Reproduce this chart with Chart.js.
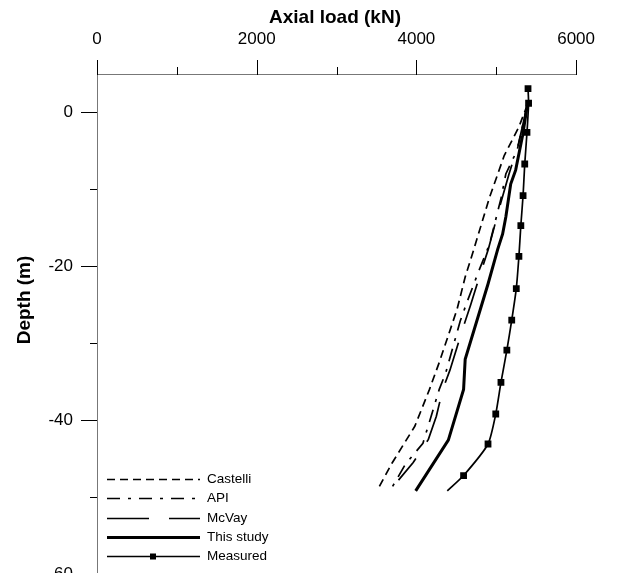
<!DOCTYPE html>
<html>
<head>
<meta charset="utf-8">
<script src="https://cdn.jsdelivr.net/npm/chart.js@4.4.0/dist/chart.umd.min.js"></script>
<style>
  html, body { margin: 0; padding: 0; overflow: hidden; background: #fff; }
</style>
</head>
<body>
<canvas id="pile-chart" width="619" height="620"></canvas>
<script>
// axis ticks
var loadTicks = [0, 1000, 2000, 3000, 4000, 5000, 6000];
var depthTicks = [0, -10, -20, -30, -40, -50, -60];

// series (load kN, depth m)
var castelliLoad  = [5390, 5283, 5100, 5019, 4917, 4815, 4713, 4611, 4509, 4286, 4164, 3980, 3694, 3511];
var castelliDepth = [1, -1.9, -5.6, -8.0, -11.0, -14.5, -18.0, -21.4, -25.6, -32.5, -36.0, -40.8, -45.6, -49.1];

var apiLoad  = [5390, 5262, 5120, 5059, 4917, 4774, 4632, 4549, 4366, 4286, 4164, 4082, 3858, 3675];
var apiDepth = [1, -4.9, -8.0, -11.2, -17.1, -20.8, -24.7, -27.1, -33.9, -36.0, -40.2, -43.0, -45.8, -49.1];

var mcvayLoad  = [5390, 5280, 5160, 5050, 4900, 4800, 4680, 4600, 4420, 4330, 4250, 4150, 3960, 3776];
var mcvayDepth = [1, -4, -8, -12, -17.8, -21, -25, -27.5, -33.5, -36, -39.5, -42.5, -45.5, -47.8];

var studyLoad  = [5390, 5330, 5243, 5181, 5120, 5080, 5018, 4897, 4611, 4591, 4400, 3991];
var studyDepth = [1, -3, -7.5, -9.3, -13.6, -15.8, -17.8, -22.3, -32.1, -36.0, -42.6, -49.2];

var measuredLoad  = [5398, 5405, 5385, 5357, 5336, 5308, 5284, 5251, 5194, 5133, 5059, 4994, 4897, 4591, 4387];
var measuredDepth = [3.1, 1.2, -2.6, -6.7, -10.8, -14.7, -18.7, -22.9, -27.0, -30.9, -35.1, -39.2, -43.1, -47.2, -49.2];

function pts(xs, ys) {
  return xs.map(function (v, i) { return {x: v, y: ys[i]}; });
}

var FONT = "'Liberation Sans', Arial, sans-serif";

var decor = {
  id: 'decor',
  afterDraw: function (chart) {
    var ctx = chart.ctx, xs = chart.scales.x, ys = chart.scales.y, a = chart.chartArea;
    ctx.save();
    ctx.strokeStyle = '#000';
    ctx.lineWidth = 1;
    ctx.setLineDash([]);
    ctx.beginPath();
    loadTicks.forEach(function (v) {
      var px = Math.round(xs.getPixelForValue(v)) + 0.5;
      var len = v % 2000 === 0 ? 14 : 7;
      ctx.moveTo(px, a.top + 1); ctx.lineTo(px, a.top - len);
    });
    depthTicks.forEach(function (v) {
      var py = Math.round(ys.getPixelForValue(v)) + 0.5;
      var len = v % 20 === 0 ? 16 : 7;
      ctx.moveTo(a.left, py); ctx.lineTo(a.left - len, py);
    });
    ctx.stroke();

    // axis titles
    ctx.fillStyle = '#000';
    ctx.font = 'bold 19px ' + FONT;
    ctx.textAlign = 'center';
    ctx.textBaseline = 'middle';
    ctx.fillText('Axial load (kN)', 335, 18);
    ctx.save();
    ctx.translate(25, 300);
    ctx.rotate(-Math.PI / 2);
    ctx.fillText('Depth (m)', 0, 0);
    ctx.restore();

    // legend
    var rows = [479, 498, 518, 537, 556];
    ctx.font = '13.5px ' + FONT;
    ctx.textAlign = 'left';
    chart.data.datasets.forEach(function (ds, i) {
      var y = rows[i] + 0.5;
      ctx.strokeStyle = '#000';
      ctx.lineWidth = ds.borderWidth;
      ctx.setLineDash(ds.borderDash || []);
      ctx.beginPath();
      ctx.moveTo(107, y); ctx.lineTo(200, y);
      ctx.stroke();
      ctx.setLineDash([]);
      if (ds.label === 'Measured') {
        ctx.fillStyle = '#000';
        ctx.fillRect(150, y - 3, 6, 6);
      }
      ctx.fillStyle = '#000';
      ctx.fillText(ds.label, 207, y);
    });
    ctx.restore();
  }
};

var pileChart = new Chart(document.getElementById('pile-chart'), {
  type: 'scatter',
  data: {
    datasets: [
      {label: 'Castelli', data: pts(castelliLoad, castelliDepth), showLine: true, borderColor: '#000',
       borderWidth: 1.7, borderDash: [8, 5], pointRadius: 0},
      {label: 'API', data: pts(apiLoad, apiDepth), showLine: true, borderColor: '#000',
       borderWidth: 1.7, borderDash: [13, 8, 3, 8], pointRadius: 0},
      {label: 'McVay', data: pts(mcvayLoad, mcvayDepth), showLine: true, borderColor: '#000',
       borderWidth: 1.7, borderDash: [42, 20], pointRadius: 0},
      {label: 'This study', data: pts(studyLoad, studyDepth), showLine: true, borderColor: '#000',
       borderWidth: 3, pointRadius: 0},
      {label: 'Measured', data: pts(measuredLoad, measuredDepth), showLine: true, borderColor: '#000',
       borderWidth: 1.7, tension: 0.2, pointStyle: 'rect', backgroundColor: '#000',
       pointRadius: function (c) { return c.dataIndex === measuredLoad.length - 1 ? 0 : 3.6; }}
    ]
  },
  options: {
    responsive: false, animation: false,
    layout: {padding: {left: 0, top: 0, right: 32, bottom: 46}},
    plugins: {legend: {display: false}, tooltip: {enabled: false}},
    scales: {
      x: {
        type: 'linear', position: 'top', min: 0, max: 6000,
        grid: {display: false, drawTicks: false},
        border: {display: true, color: '#777', width: 1},
        ticks: {stepSize: 1000, padding: 24, color: '#000', font: {size: 17, family: FONT},
                maxRotation: 0, autoSkip: false,
                callback: function (v) { return v % 2000 === 0 ? String(v) : ''; }},
        afterFit: function (s) { s.height = 74; }
      },
      y: {
        type: 'linear', min: -60, max: 5,
        grid: {display: false, drawTicks: false},
        border: {display: true, color: '#777', width: 1},
        ticks: {stepSize: 10, padding: 24, color: '#000', font: {size: 17, family: FONT},
                autoSkip: false,
                callback: function (v) { return v % 20 === 0 ? String(v) : ''; }},
        afterFit: function (s) { s.width = 97; }
      }
    }
  },
  plugins: [decor]
});
</script>
</body>
</html>
